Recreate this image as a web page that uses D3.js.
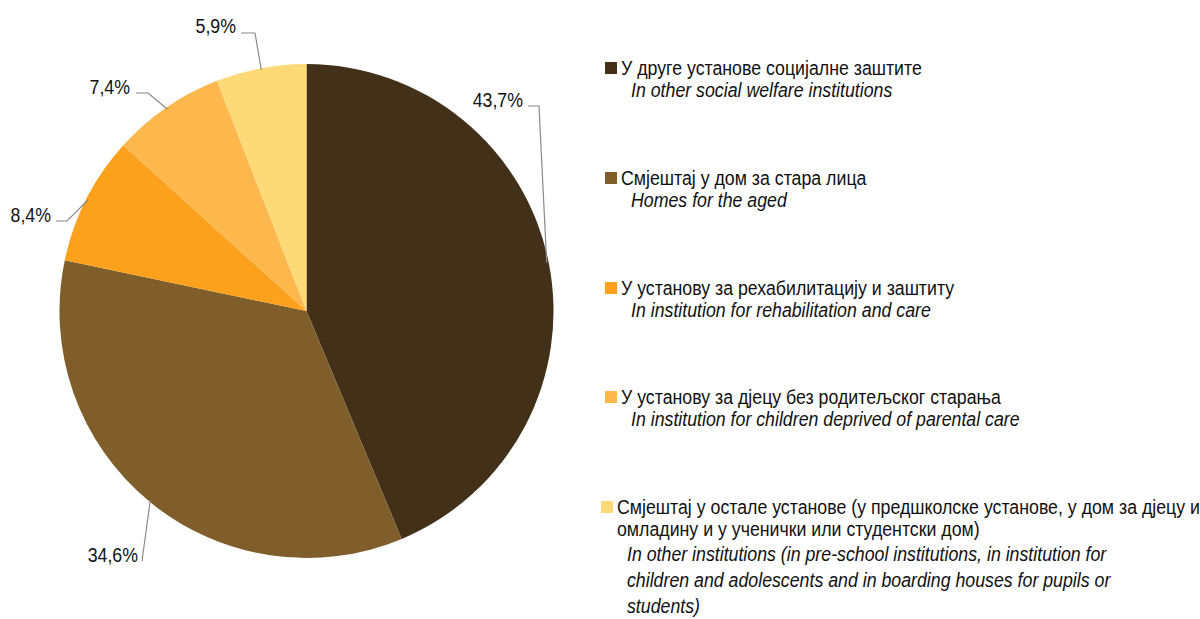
<!DOCTYPE html>
<html>
<head>
<meta charset="utf-8">
<script src="https://cdn.jsdelivr.net/npm/d3@7"></script>
<style>
  html, body { margin: 0; padding: 0; background: #fff; }
  svg { display: block; font-family: "Liberation Sans", Arial, sans-serif; }
</style>
</head>
<body>
<svg id="chart" width="1200" height="619"></svg>
<script>
// ---- data ----
const categoriesSr = [
  "У друге установе социјалне заштите",
  "Смјештај у дом за стара лица",
  "У установу за рехабилитацију и заштиту",
  "У установу за дјецу без родитељског старања",
  "Смјештај у остале установе (у предшколске установе, у дом за дјецу и|омладину и у ученички или студентски дом)"
];
const categoriesEn = [
  "In other social welfare institutions",
  "Homes for the aged",
  "In institution for rehabilitation and care",
  "In institution for children deprived of parental care",
  "In other institutions (in pre-school institutions, in institution for|children and adolescents and in boarding houses for pupils or|students)"
];
const values = [43.7, 34.6, 8.4, 7.4, 5.9];
const valueLabels = ["43,7%", "34,6%", "8,4%", "7,4%", "5,9%"];
const colors = ["#423118", "#7F5E2C", "#FCA11C", "#FDB84D", "#FED977"];

// ---- layout (not data) ----
const cx = 306.5, cy = 311, R = 247;
const NARROW = 0.845;   // emulate a narrow sans face
const FS = 21;
const labelLayout = [
  { ex: 539, ey: 106, tx: 523, ty: 107, hx: 528 },
  { ex: 142, ey: 561, tx: 138, ty: 562, hx: 142 },
  { ex: 67,  ey: 221, tx: 51,  ty: 222, hx: 56 },
  { ex: 148, ey: 93,  tx: 130, ty: 94,  hx: 136 },
  { ex: 255, ey: 33,  tx: 236, ty: 33,  hx: 241 }
];

const svg = d3.select("#chart");
const g = svg.append("g").attr("transform", `translate(${cx},${cy})`);

function narrowText(parent, x, y, str, opts = {}) {
  return parent.append("text")
    .attr("transform", `translate(${x},${y}) scale(${NARROW},1)`)
    .attr("text-anchor", opts.anchor || "start")
    .attr("font-size", opts.size || FS)
    .attr("font-style", opts.italic ? "italic" : "normal")
    .attr("fill", "#111")
    .text(str);
}

const pie = d3.pie().sort(null).value(d => d);
const arcs = pie(values);
const arc = d3.arc().innerRadius(0).outerRadius(R);

g.selectAll("path.slice")
  .data(arcs)
  .join("path")
  .attr("class", "slice")
  .attr("d", arc)
  .attr("fill", (d, i) => colors[i]);

// leader lines + value labels
const edgeArc = d3.arc().innerRadius(R - 2).outerRadius(R - 2);
arcs.forEach((d, i) => {
  const [px, py] = edgeArc.centroid(d);
  const L = labelLayout[i];
  svg.append("polyline")
    .attr("points", `${L.hx},${L.ey} ${L.ex},${L.ey} ${px + cx},${py + cy}`)
    .attr("fill", "none")
    .attr("stroke", "#8a8a8a")
    .attr("stroke-width", 1.2);
  narrowText(svg, L.tx, L.ty, valueLabels[i], { anchor: "end" });
});

// legend
const legendX = [605, 605, 605, 605, 601];
const legendY = [75, 185, 295, 404, 514];
const legend = svg.append("g");
categoriesSr.forEach((name, i) => {
  const x = legendX[i], y = legendY[i];
  legend.append("rect")
    .attr("x", x).attr("y", y - 13)
    .attr("width", 12).attr("height", 12)
    .attr("fill", colors[i]);
  const srLines = name.split("|");
  srLines.forEach((ln, j) => {
    narrowText(legend, x + 16, y + j * 22, ln);
  });
  const enLines = categoriesEn[i].split("|");
  const y0 = y + (srLines.length - 1) * 22 + (srLines.length > 1 ? 25 : 22);
  enLines.forEach((ln, j) => {
    narrowText(legend, x + 26, y0 + j * 26, ln, { italic: true });
  });
});
</script>
</body>
</html>
